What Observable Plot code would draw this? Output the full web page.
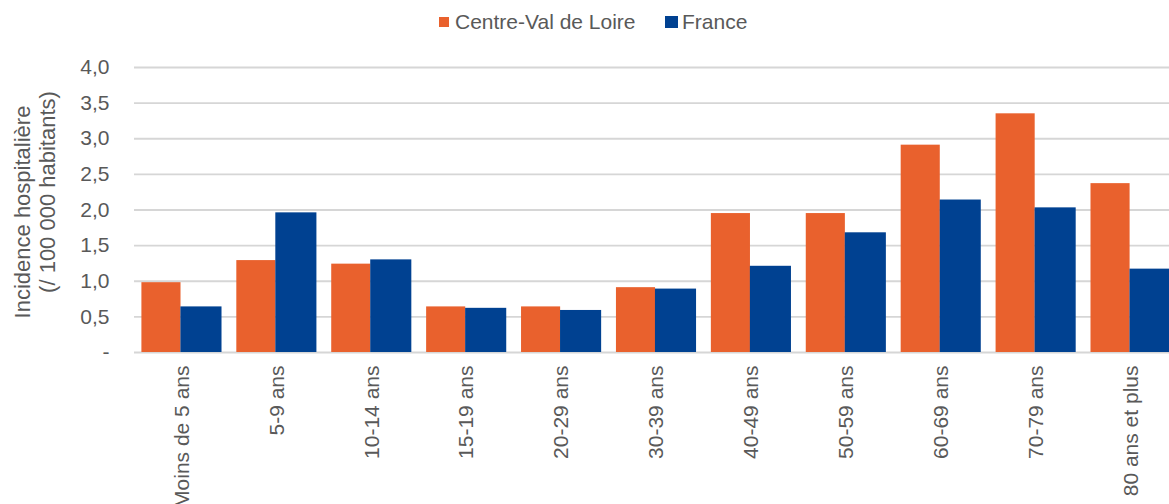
<!DOCTYPE html>
<html>
<head>
<meta charset="utf-8">
<script src="https://cdn.jsdelivr.net/npm/d3@7"></script>
<script src="https://cdn.jsdelivr.net/npm/@observablehq/plot@0.6"></script>
<style>
  html, body { margin: 0; padding: 0; background: #fff; overflow: hidden; width: 1169px; height: 504px; }
  #wrap { position: relative; width: 1169px; height: 504px; overflow: hidden; font-family: "Liberation Sans", Arial, sans-serif; color: #595959; }
  #legend { position: absolute; left: 0; top: 0; width: 1169px; height: 44px; }
  .item { position: absolute; top: 9px; display: flex; align-items: center; font-size: 21px; line-height: 26px; white-space: nowrap; }
  .sw { display: inline-block; }
  #chart { position: absolute; left: 0; top: 44px; width: 1178px; }
  #chart svg { max-width: none !important; }
</style>
</head>
<body>
<div id="wrap">
  <div id="legend"></div>
  <div id="chart"></div>
</div>
<script>
const categories = ["Moins de 5 ans", "5-9 ans", "10-14 ans", "15-19 ans", "20-29 ans", "30-39 ans", "40-49 ans", "50-59 ans", "60-69 ans", "70-79 ans", "80 ans et plus"];
const seriesNames = ["Centre-Val de Loire", "France"];
const centreValDeLoire = [0.98, 1.29, 1.24, 0.64, 0.64, 0.91, 1.95, 1.95, 2.91, 3.35, 2.37];
const france = [0.64, 1.96, 1.30, 0.62, 0.59, 0.89, 1.21, 1.68, 2.14, 2.03, 1.17];
const yTicks = [0, 0.5, 1, 1.5, 2, 2.5, 3, 3.5, 4];
const colors = ["#E9612D", "#004191"];
const yTitle = ["Incidence hospitalière", "(/ 100 000 habitants)"];

const rowsCVL = categories.map((c, i) => ({age: c, series: seriesNames[0], value: centreValDeLoire[i]}));
const rowsFR = categories.map((c, i) => ({age: c, series: seriesNames[1], value: france[i]}));

// Legend
const legend = document.getElementById("legend");
const legendItems = [
  {left: 439, w: 10, h: 10, gap: 6},
  {left: 665, w: 13, h: 12, gap: 4}
];
seriesNames.forEach((name, i) => {
  const cfg = legendItems[i];
  const item = document.createElement("div");
  item.className = "item";
  item.style.left = cfg.left + "px";
  const sw = document.createElement("span");
  sw.className = "sw";
  sw.style.background = colors[i];
  sw.style.width = cfg.w + "px";
  sw.style.height = cfg.h + "px";
  sw.style.marginRight = cfg.gap + "px";
  const t = document.createElement("span");
  t.textContent = name;
  item.appendChild(sw);
  item.appendChild(t);
  legend.appendChild(item);
});

const fmt = d => d === 0 ? "-" : d.toFixed(1).replace(".", ",");

const chart = Plot.plot({
  width: 1178,
  height: 460,
  marginLeft: 134,
  marginRight: 0,
  marginTop: 23,
  marginBottom: 152,
  style: {fontFamily: "Liberation Sans, Arial, sans-serif", fontSize: "21px", color: "#595959", background: "transparent", overflow: "visible", maxWidth: "none"},
  x: {domain: categories, paddingInner: 0.156, paddingOuter: 0.078, round: false, axis: null},
  y: {domain: [0, 4], axis: null},
  color: {domain: seriesNames, range: colors},
  marks: [
    Plot.ruleY(yTicks, {stroke: "#d6d6d6", strokeWidth: 1.8}),
    Plot.barY(rowsCVL, {x: "age", y: "value", fill: "series", insetRight: 41}),
    Plot.barY(rowsFR, {x: "age", y: "value", fill: "series", insetLeft: 39}),
    Plot.axisY({ticks: yTicks, tickFormat: fmt, tickSize: 0, tickPadding: 25, fontSize: 21, label: null}),
    Plot.axisX({tickRotate: -90, tickSize: 0, tickPadding: 13, fontSize: 21, label: null}),
    Plot.text([yTitle[0]], {frameAnchor: "left", textAnchor: "middle", text: d => d, rotate: -90, dx: -112, dy: 2, fontSize: 22, fill: "#595959"}),
    Plot.text([yTitle[1]], {frameAnchor: "left", textAnchor: "middle", text: d => d, rotate: -90, dx: -87, dy: -18, fontSize: 22, fill: "#595959"})
  ]
});
document.getElementById("chart").appendChild(chart);
</script>
</body>
</html>
